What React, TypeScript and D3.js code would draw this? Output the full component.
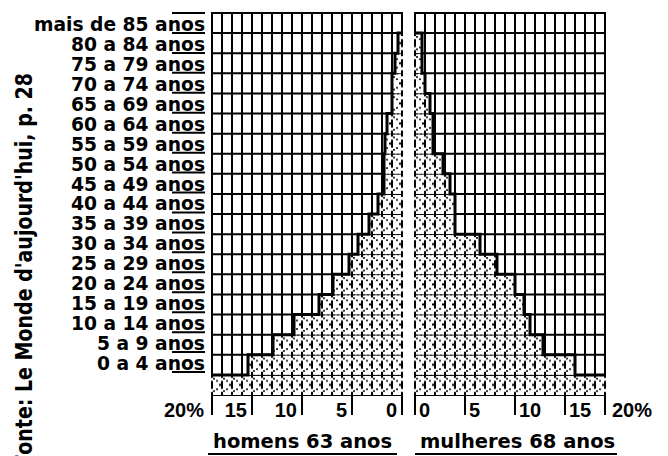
import React from "react";
import * as d3 from "d3";

const ageLabels = [
  "mais de 85 anos", "80 a 84 anos", "75 a 79 anos", "70 a 74 anos", "65 a 69 anos",
  "60 a 64 anos", "55 a 59 anos", "50 a 54 anos", "45 a 49 anos", "40 a 44 anos",
  "35 a 39 anos", "30 a 34 anos", "25 a 29 anos", "20 a 24 anos", "15 a 19 anos",
  "10 a 14 anos", "5 a 9 anos", "0 a 4 anos",
];
const menValues = [0, 0.4, 0.7, 1.0, 1.0, 1.5, 1.7, 1.8, 1.8, 2.4, 3.3, 4.4, 5.3, 6.9, 8.3, 10.8, 12.9, 15.4];
const womenValues = [0, 0.7, 0.7, 1.0, 1.5, 1.8, 1.8, 2.8, 3.5, 4.0, 4.0, 6.5, 8.2, 10.0, 10.9, 11.5, 12.8, 16.0];
const baseRowValue = 19;
const axisMax = 19;
const tickValues = [19, 15, 10, 5, 0];
const tickLabels = ["20%", "15", "10", "5", "0"];
const menTitle = "homens 63 anos";
const womenTitle = "mulheres 68 anos";
const sourceText = "Fonte: Le Monde d'aujourd'hui, p. 28";

const W = 668;
const H = 456;
const rowKeys = [...ageLabels, "base"];
const menRows = [...menValues, baseRowValue];
const womenRows = [...womenValues, baseRowValue];

const y = d3.scaleBand<string>().domain(rowKeys).range([13, 395]);
const yLab = d3.scaleBand<string>().domain(rowKeys).range([13, 392]);
const xM = d3.scaleLinear().domain([0, axisMax]).range([402, 212]);
const xW = d3.scaleLinear().domain([0, axisMax]).range([415, 605]);
const bh = y.bandwidth();

function stepPath(vals: number[], x: d3.ScaleLinear<number, number>) {
  const pts: [number, number][] = [];
  let started = false;
  vals.forEach((v, i) => {
    if (v <= 0) return;
    const y0 = y(rowKeys[i]) as number;
    if (!started) {
      pts.push([x(0), y0]);
      started = true;
    }
    pts.push([x(v), y0]);
    if (i < vals.length - 1) pts.push([x(v), y0 + bh]);
  });
  return d3.line()(pts) || "";
}

function Pattern({ id, x0 }: { id: string; x0: number }) {
  return (
    <pattern id={id} patternUnits="userSpaceOnUse" x={x0 - 1} y={13} width={10} height={bh}>
      <rect x={0} y={0} width={10} height={bh} fill="#fff" />
      <rect x={0} y={0} width={2} height={3} fill="#000" />
      <rect x={0} y={6} width={2} height={8} fill="#000" />
      <rect x={0} y={17} width={2} height={bh - 17} fill="#000" />
      <rect x={2} y={3} width={2} height={1.5} fill="#000" />
      <rect x={2} y={15.5} width={2} height={1.5} fill="#000" />
      <rect x={8} y={9} width={2} height={2} fill="#000" />
      <rect x={2} y={0} width={2} height={1} fill="#000" />
      <rect x={6} y={0} width={2} height={1} fill="#000" />
      <circle cx={6} cy={bh * 0.3} r={1} fill="#000" />
      <circle cx={6} cy={bh * 0.72} r={1} fill="#000" />
    </pattern>
  );
}

function Panel({ x, vals, patId }: { x: d3.ScaleLinear<number, number>; vals: number[]; patId: string }) {
  const cols = d3.range(0, axisMax + 1);
  const [r0, r1] = x.range();
  const xa = Math.min(r0, r1);
  const xb = Math.max(r0, r1);
  return (
    <g>
      {cols.map((c) => (
        <line key={"v" + c} x1={x(c)} x2={x(c)} y1={13} y2={395} stroke="#000" strokeWidth={2} />
      ))}
      {rowKeys.map((k) => (
        <line key={"h" + k} x1={xa - 1} x2={xb + 1} y1={y(k)} y2={y(k)} stroke="#000" strokeWidth={2} />
      ))}
      <line x1={xa - 1} x2={xb + 1} y1={395} y2={395} stroke="#000" strokeWidth={2} />
      {vals.map((v, i) =>
        v > 0 ? (
          <rect
            key={"f" + i}
            x={Math.min(x(0), x(v)) - 1}
            y={(y(rowKeys[i]) as number) + 1}
            width={Math.abs(x(v) - x(0)) + 2}
            height={bh - 1}
            fill={`url(#${patId})`}
          />
        ) : null
      )}
      <path d={stepPath(vals, x)} fill="none" stroke="#000" strokeWidth={3} />
      {tickValues.map((t) => (
        <line key={"t" + t} x1={x(t)} x2={x(t)} y1={395} y2={415} stroke="#000" strokeWidth={2} />
      ))}
    </g>
  );
}

export default function App() {
  return (
    <svg width={W} height={H} style={{ position: "absolute", left: 0, top: 0, background: "#fff" }}>
      <defs>
        <Pattern id="patM" x0={212} />
        <Pattern id="patW" x0={415} />
      </defs>
      <rect x={0} y={0} width={W} height={H} fill="#fff" />
      <Panel x={xM} vals={menRows} patId="patM" />
      <Panel x={xW} vals={womenRows} patId="patW" />

      {ageLabels.map((a) => (
        <text
          key={a}
          x={205}
          y={(yLab(a) as number) + yLab.bandwidth() - 2}
          textAnchor="end"
          fontFamily="DejaVu Sans"
          fontWeight="bold"
          fontSize={18.7}
          fill="#000"
        >
          {a}
        </text>
      ))}
      {rowKeys.slice(0, ageLabels.length + 1).map((k, i) => (
        <line
          key={"u" + i}
          x1={172}
          x2={205}
          y1={i === 0 ? 13 : (yLab(rowKeys[i - 1]) as number) + yLab.bandwidth()}
          y2={i === 0 ? 13 : (yLab(rowKeys[i - 1]) as number) + yLab.bandwidth()}
          stroke="#000"
          strokeWidth={2}
        />
      ))}

      {tickValues.map((t, i) => (
        <text key={"lm" + t} x={xM(t) - (i === 0 ? 8 : 5)} y={417} textAnchor="end"
          fontFamily="Liberation Sans" fontWeight="bold" fontSize={20} fill="#000">
          {tickLabels[i]}
        </text>
      ))}
      {tickValues.map((t, i) => (
        <text key={"lw" + t} x={xW(t) + (i === 0 ? 7 : 4)} y={417} textAnchor="start"
          fontFamily="Liberation Sans" fontWeight="bold" fontSize={20} fill="#000">
          {tickLabels[i]}
        </text>
      ))}

      <text x={213} y={448} fontFamily="DejaVu Sans" fontWeight="bold" fontSize={19.5} fill="#000">
        {menTitle}
      </text>
      <line x1={208} x2={397} y1={454} y2={454} stroke="#000" strokeWidth={2} />
      <text x={420} y={448} fontFamily="DejaVu Sans" fontWeight="bold" fontSize={19.5} fill="#000">
        {womenTitle}
      </text>
      <line x1={415} x2={617} y1={454} y2={454} stroke="#000" strokeWidth={2} />

      <text
        transform="translate(32,73) rotate(-90) scale(1,1.25)"
        textAnchor="end"
        fontFamily="DejaVu Sans"
        fontWeight="bold"
        fontSize={19}
        fill="#000"
      >
        {sourceText}
      </text>
    </svg>
  );
}
